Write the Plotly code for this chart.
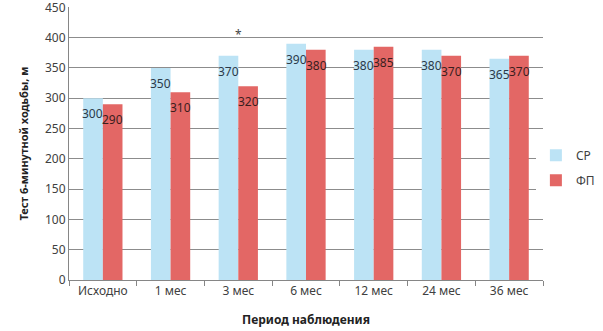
import plotly.graph_objects as go

categories = ["Исходно", "1 мес", "3 мес", "6 мес", "12 мес", "24 мес", "36 мес"]
sr_values = [300, 350, 370, 390, 380, 380, 365]
fp_values = [290, 310, 320, 380, 385, 370, 370]
series_names = ["СР", "ФП"]
y_ticks = [0, 50, 100, 150, 200, 250, 300, 350, 400, 450]
star_category = "3 мес"
star_value = 405

BLUE = "#BCE3F5"
RED = "#E36765"
FONT = "Noto Sans"

fig = go.Figure()
fig.add_trace(go.Bar(x=categories, y=sr_values, name=series_names[0], legendgroup="a",
                     marker=dict(color=BLUE, line=dict(width=0))))
fig.add_trace(go.Bar(x=categories, y=fp_values, name=series_names[1], legendgroup="b",
                     marker=dict(color=RED, line=dict(width=0))))

ann = []
for c, v in zip(categories, sr_values):
    ann.append(dict(x=c, y=v, text=str(v), showarrow=False, xref="x", yref="y",
                    xanchor="center", yanchor="top", xshift=-10, yshift=-5,
                    font=dict(family=FONT, size=12, color="#2B3A4A")))
for c, v in zip(categories, fp_values):
    ann.append(dict(x=c, y=v, text=str(v), showarrow=False, xref="x", yref="y",
                    xanchor="center", yanchor="top", xshift=10, yshift=-5,
                    font=dict(family=FONT, size=12, color="#3A1E1E")))
ann.append(dict(x=star_category, y=star_value, text="*", showarrow=False,
                xref="x", yref="y", xanchor="center", yanchor="middle",
                font=dict(family=FONT, size=12, color="#444444")))

fig.update_layout(
    width=603, height=331,
    margin=dict(l=69, r=60, t=7, b=51, autoexpand=False),
    plot_bgcolor="white", paper_bgcolor="white",
    barmode="group", bargap=0.42, bargroupgap=0,
    font=dict(family=FONT, size=12, color="#404040"),
    annotations=ann,
    legend=dict(x=0.985, y=0.51, xanchor="left", yanchor="top",
                font=dict(family=FONT, size=12, color="#404040"),
                itemwidth=30, tracegroupgap=6),
    xaxis=dict(
        type="category", showline=True, linecolor="#868686", linewidth=1,
        ticks="outside", tickson="boundaries", ticklen=5, tickcolor="#868686",
        automargin=False,
        tickfont=dict(family=FONT, size=12, color="#404040"),
        title=dict(text="<b>Период наблюдения</b>", standoff=17,
                   font=dict(family=FONT, size=12, color="#222222")),
    ),
    yaxis=dict(
        range=[0, 450.6], tickvals=y_ticks, showgrid=True, gridcolor="#8C8C8C",
        gridwidth=1, showline=True, linecolor="#868686", linewidth=1,
        ticks="", zeroline=False, automargin=False, ticklabeloverflow="allow",
        tickfont=dict(family=FONT, size=12, color="#404040"),
        title=dict(text="<b>Тест 6-минутной ходьбы, м</b>", standoff=14,
                   font=dict(family=FONT, size=11, color="#222222")),
    ),
)

fig.write_html("out.html", config={"displayModeBar": False},
               post_script="document.body.style.margin='0';")
